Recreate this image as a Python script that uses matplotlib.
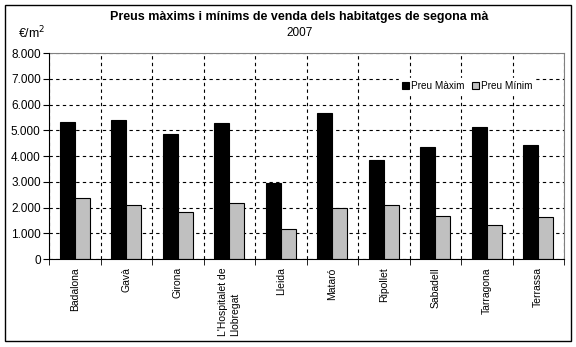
import matplotlib
matplotlib.use('Agg')
import matplotlib.pyplot as plt
from matplotlib.patches import Rectangle
import numpy as np

plt.rcParams['font.family'] = ['Liberation Sans', 'DejaVu Sans']

# preus de venda per municipi (euros per m2)
municipis = ['Badalona', 'Gavà', 'Girona', "L'Hospitalet de\nLlobregat", 'Lleida',
             'Mataró', 'Ripollet', 'Sabadell', 'Tarragona', 'Terrassa']
preu_maxim = [5340, 5400, 4860, 5290, 2940, 5680, 3840, 4350, 5130, 4430]
preu_minim = [2380, 2100, 1840, 2190, 1150, 2000, 2110, 1680, 1330, 1640]
y_ticks = [0, 1000, 2000, 3000, 4000, 5000, 6000, 7000, 8000]

fig = plt.figure(figsize=(5.76, 3.47), dpi=100)
ax = fig.add_axes([0.0851, 0.2536, 0.8941, 0.5934])

x = np.arange(len(municipis))
w = 0.29
ax.bar(x - w / 2, preu_maxim, w, color='black', edgecolor='black', linewidth=0.8,
       label='Preu Màxim', zorder=3)
ax.bar(x + w / 2, preu_minim, w, color='#C0C0C0', edgecolor='black', linewidth=0.8,
       label='Preu Mínim', zorder=3)

ax.set_xlim(-0.5, len(municipis) - 0.5)
ax.set_ylim(0, 8000)
ax.set_yticks(y_ticks)
ax.set_yticklabels(['{:,}'.format(v).replace(',', '.') for v in y_ticks], fontsize=8.5)

ax.set_xticks(x)
ax.set_xticklabels(municipis, rotation=90, fontsize=7.5, va='top', ha='center',
                   multialignment='left')
ax.tick_params(axis='x', which='major', length=0, pad=6)
ax.set_xticks(np.arange(-0.5, len(municipis), 1), minor=True)
ax.tick_params(axis='x', which='minor', length=4, direction='out', color='black')
ax.tick_params(axis='y', length=4, direction='out', pad=2)

# graella discontinua
ax.yaxis.grid(True, color='black', linestyle=(0, (3, 3)), linewidth=0.8, zorder=1)
ax.xaxis.grid(True, which='minor', color='black', linestyle=(0, (3, 3)), linewidth=0.8, zorder=1)

for s in ['top', 'right']:
    ax.spines[s].set_color('#808080')
for s in ['left', 'bottom']:
    ax.spines[s].set_color('black')
    ax.spines[s].set_zorder(4)

leg = ax.legend(loc='center left', bbox_to_anchor=(0.67, 0.84), ncol=2, frameon=True,
                fontsize=7.2, handlelength=0.7, handleheight=0.7, handletextpad=0.15,
                columnspacing=0.8, borderpad=0.3, fancybox=False)
leg.get_frame().set_edgecolor('white')
leg.get_frame().set_facecolor('white')
leg.get_frame().set_alpha(1)

fig.text(0.52, 0.952, 'Preus màxims i mínims de venda dels habitatges de segona mà',
         ha='center', va='center', fontsize=9, fontweight='bold')
fig.text(0.52, 0.905, '2007', ha='center', va='center', fontsize=8.5)
fig.text(0.031, 0.905, '€/m$^2$', ha='left', va='center', fontsize=9)

# marc exterior
fig.patches.append(Rectangle((5 / 576, 6 / 347), 566 / 576, 336 / 347, transform=fig.transFigure,
                             fill=False, edgecolor='black', linewidth=1))

fig.savefig('out.png', dpi=100)
